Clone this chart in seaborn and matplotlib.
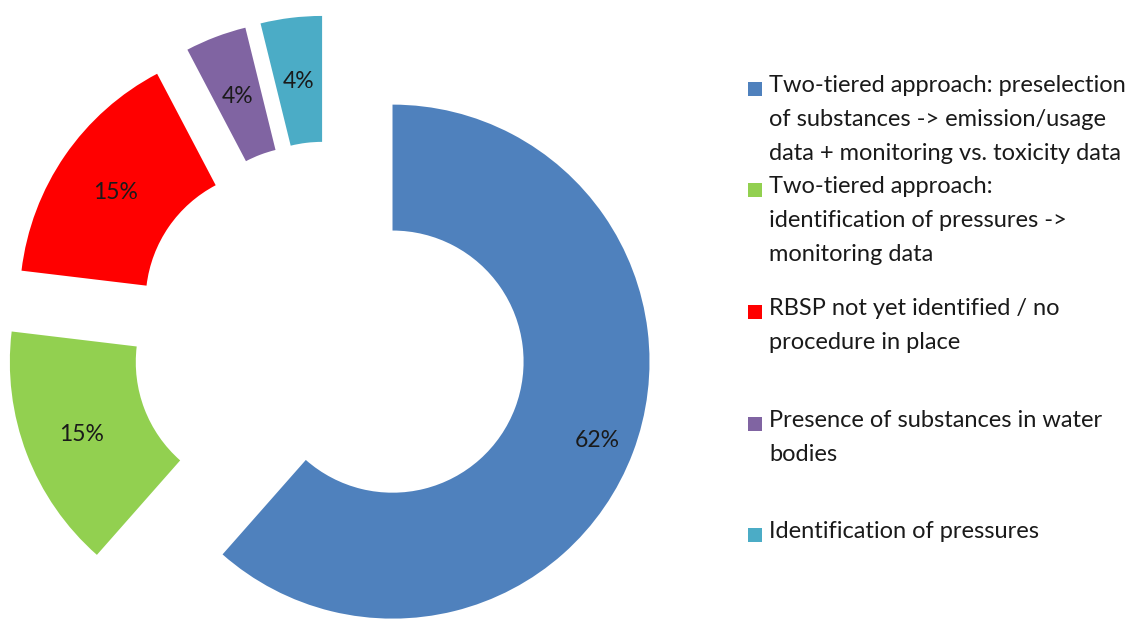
import matplotlib
matplotlib.use("Agg")
import matplotlib.pyplot as plt
from matplotlib.patches import Rectangle
import seaborn as sns

categories = [
    "Two-tiered approach: preselection\nof substances -> emission/usage\ndata + monitoring vs. toxicity data",
    "Two-tiered approach:\nidentification of pressures ->\nmonitoring data",
    "RBSP not yet identified / no\nprocedure in place",
    "Presence of substances in water\nbodies",
    "Identification of pressures",
]
values = [61.5, 15.4, 15.4, 3.85, 3.85]
colors = ["#4F81BD", "#92D050", "#FF0000", "#8064A2", "#4BACC6"]
legend_y = [85, 186, 308, 420, 531]  # pixel rows of first line of each legend entry
label_dist = [0.85, 0.77, 0.76, 0.76, 0.76]

sns.set_style("white")
plt.rcParams["font.family"] = ["Lato", "DejaVu Sans"]

W, H = 1138, 619
fig = plt.figure(figsize=(W / 100, H / 100), dpi=100)

R = 257.0
cx, cy = 330.0, 338.0
ax_w = 660.0
ax = fig.add_axes([0, 0, ax_w / W, 1])

wedges, texts, autotexts = ax.pie(
    values,
    colors=colors,
    startangle=90,
    counterclock=False,
    explode=[0.26, 0.263, 0.252, 0.253, 0.255],
    wedgeprops=dict(width=0.49, edgecolor="none"),
    autopct=lambda p: f"{p:.0f}%",
    pctdistance=0.77,
    textprops=dict(fontsize=16.5, color="#1a1a1a"),
)
for w, t, d in zip(wedges, autotexts, label_dist):
    x0, y0 = w.center
    x, y = t.get_position()
    k = d / 0.77
    t.set_position((x0 + (x - x0) * k, y0 + (y - y0) * k - 2 / R))

ax.set_xlim(-cx / R, (ax_w - cx) / R)
ax.set_ylim(-(H - cy) / R, cy / R)
ax.set_aspect("auto")
ax.axis("off")

for y, lab, col in zip(legend_y, categories, colors):
    fig.patches.append(Rectangle((748 / W, 1 - (y + 11) / H), 14 / W, 14 / H,
                                 transform=fig.transFigure, facecolor=col,
                                 edgecolor="none"))
    fig.text(769 / W, 1 - (y - 10) / H, lab, fontsize=17, va="top", ha="left",
             color="#1a1a1a", linespacing=1.77)

fig.savefig("out.png", dpi=100)
